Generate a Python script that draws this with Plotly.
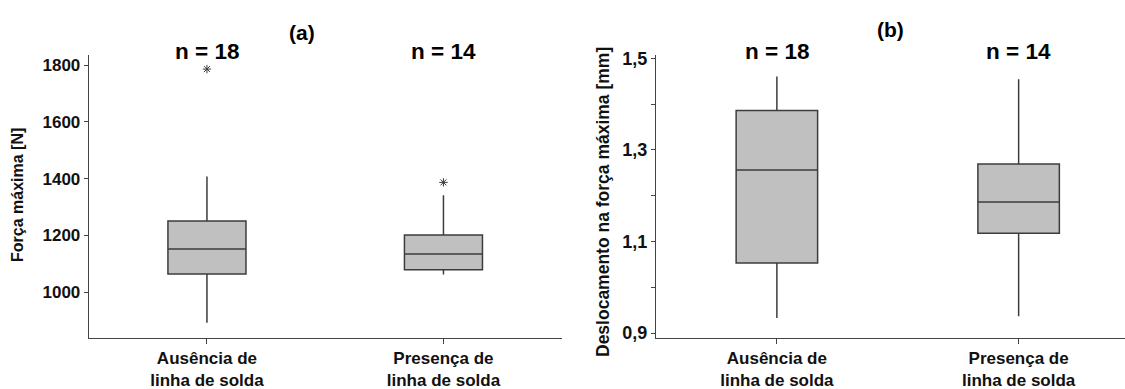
import plotly.graph_objects as go

# ---- data ----
categories = ["Ausência de<br>linha de solda", "Presença de<br>linha de solda"]

# panel (a): Força máxima [N]
a_q1 = [1064, 1079]
a_median = [1152, 1135]
a_q3 = [1251, 1202]
a_lower = [893, 1063]
a_upper = [1408, 1342]
a_outlier_cat = [categories[0], categories[1]]
a_outlier_val = [1786, 1387]
a_n = ["n = 18", "n = 14"]
a_tickvals = [1000, 1200, 1400, 1600, 1800]
a_ticktext = ["1000", "1200", "1400", "1600", "1800"]

# panel (b): Deslocamento na força máxima [mm]
b_q1 = [1.053, 1.118]
b_median = [1.256, 1.186]
b_q3 = [1.386, 1.269]
b_lower = [0.933, 0.937]
b_upper = [1.460, 1.454]
b_n = ["n = 18", "n = 14"]
b_tickvals = [0.9, 1.1, 1.3, 1.5]
b_ticktext = ["0,9", "1,1", "1,3", "1,5"]

FONT = "Arial, Liberation Sans, sans-serif"
FILL = "#c0c0c0"
LINE = "#3c3c3c"
AXIS = "#444444"

fig = go.Figure()

fig.add_trace(go.Box(
    x=categories, q1=a_q1, median=a_median, q3=a_q3,
    lowerfence=a_lower, upperfence=a_upper,
    fillcolor=FILL, line=dict(color=LINE, width=1.5),
    whiskerwidth=0, width=0.33, boxpoints=False,
    xaxis="x", yaxis="y", showlegend=False, hoverinfo="skip"))
fig.add_trace(go.Scatter(
    x=a_outlier_cat, y=a_outlier_val, mode="markers",
    marker=dict(symbol="asterisk-open", size=7, color=LINE, line=dict(width=1, color=LINE)),
    xaxis="x", yaxis="y", showlegend=False, hoverinfo="skip"))

fig.add_trace(go.Box(
    x=categories, q1=b_q1, median=b_median, q3=b_q3,
    lowerfence=b_lower, upperfence=b_upper,
    fillcolor=FILL, line=dict(color=LINE, width=1.5),
    whiskerwidth=0, width=0.337, boxpoints=False,
    xaxis="x2", yaxis="y2", showlegend=False, hoverinfo="skip"))

W, H = 1125, 389
ytop, ybot = 55, 337.7
ydom = [1 - ybot / H, 1 - ytop / H]

xfont = dict(family=FONT, size=17, color="#111", weight="bold")
common_x = dict(type="category", showline=True, linecolor=AXIS, linewidth=1, automargin=False,
                ticks="outside", ticklen=5, tickcolor=AXIS, showgrid=False, zeroline=False,
                tickfont=xfont, ticklabelstandoff=0)
common_y = dict(showline=True, linecolor=AXIS, linewidth=1, ticks="outside", ticklen=4,
                automargin=False, tickcolor=AXIS, showgrid=False, zeroline=False)

annotations = []
for cat, txt in zip(categories, a_n):
    annotations.append(dict(x=cat, xref="x", y=1 - 51.5 / H, yref="paper", text=txt,
                            showarrow=False, yanchor="middle",
                            font=dict(family=FONT, size=22.5, color="#000", weight="bold")))
for cat, txt in zip(categories, b_n):
    annotations.append(dict(x=cat, xref="x2", y=1 - 51.5 / H, yref="paper", text=txt,
                            showarrow=False, yanchor="middle",
                            font=dict(family=FONT, size=22.5, color="#000", weight="bold")))
annotations.append(dict(x=287 / W, y=1 - 32 / H, xref="paper", yref="paper", text="(a)",
                        showarrow=False, yanchor="middle",
                        font=dict(family=FONT, size=21, color="#000", weight="bold")))
annotations.append(dict(x=906 / W, y=1 - 29.5 / H, xref="paper", yref="paper", text="(b)",
                        showarrow=False, yanchor="middle",
                        font=dict(family=FONT, size=21, color="#000", weight="bold")))
annotations.append(dict(x=18 / W, y=1 - 195 / H, xref="paper", yref="paper",
                        text="Força máxima [N]", textangle=-90, showarrow=False,
                        xanchor="center", yanchor="middle",
                        font=dict(family=FONT, size=16, color="#111", weight="bold")))
annotations.append(dict(x=603 / W, y=1 - 202 / H, xref="paper", yref="paper",
                        text="Deslocamento na força máxima [mm]", textangle=-90, showarrow=False,
                        xanchor="center", yanchor="middle",
                        font=dict(family=FONT, size=17.5, color="#111", weight="bold")))

fig.update_layout(
    width=W, height=H, margin=dict(l=0, r=0, t=0, b=0, autoexpand=False),
    paper_bgcolor="white", plot_bgcolor="white",
    xaxis=dict(domain=[88.7 / W, 561.7 / W], range=[-0.5, 1.5], anchor="y", **common_x),
    yaxis=dict(domain=ydom, range=[840, 1835.6], anchor="x",
               tickvals=a_tickvals, ticktext=a_ticktext,
               tickfont=dict(family=FONT, size=17, color="#111", weight="bold"), **common_y),
    xaxis2=dict(domain=[656 / W, 1.0], range=[-0.5, 1.44], anchor="y2", **common_x),
    yaxis2=dict(domain=ydom, range=[0.890, 1.507], anchor="x2",
                tickvals=b_tickvals, ticktext=b_ticktext,
                tickfont=dict(family=FONT, size=18, color="#111", weight="bold"),
                minor=dict(ticks="outside", ticklen=4, tickcolor=AXIS, tickmode="linear",
                           tick0=0.9, dtick=0.1),
                **common_y),
    annotations=annotations,
)

fig.write_html("out.html", config={"displayModeBar": False},
               post_script="document.body.style.margin='0';document.body.style.overflow='hidden';")
